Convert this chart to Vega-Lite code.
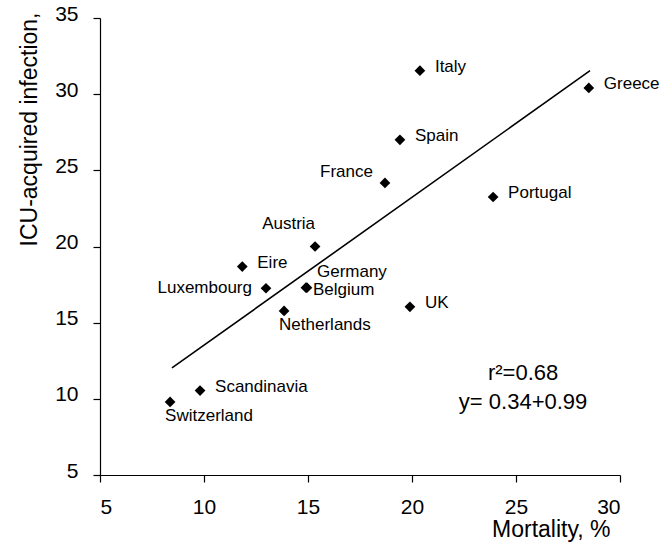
{
  "$schema": "https://vega.github.io/schema/vega-lite/v6.json",
  "width": 520,
  "height": 457,
  "autosize": {"type": "none"},
  "padding": {"left": 100, "top": 18, "right": 52, "bottom": 84},
  "background": "white",
  "config": {
    "view": {"stroke": null},
    "font": "Liberation Sans",
    "text": {"font": "Liberation Sans", "color": "black"}
  },
  "datasets": {
    "countries": [
      {"country": "Italy", "mortality": 20.38, "infection": 31.54},
      {"country": "Greece", "mortality": 28.5, "infection": 30.41},
      {"country": "Spain", "mortality": 19.42, "infection": 27.0},
      {"country": "France", "mortality": 18.7, "infection": 24.17},
      {"country": "Portugal", "mortality": 23.9, "infection": 23.25},
      {"country": "Austria", "mortality": 15.34, "infection": 20.0},
      {"country": "Eire", "mortality": 11.84, "infection": 18.68},
      {"country": "Luxembourg", "mortality": 12.98, "infection": 17.26},
      {"country": "Germany", "mortality": 14.95, "infection": 17.3},
      {"country": "Belgium", "mortality": 14.9, "infection": 17.3},
      {"country": "Netherlands", "mortality": 13.85, "infection": 15.77},
      {"country": "UK", "mortality": 19.9, "infection": 16.04},
      {"country": "Scandinavia", "mortality": 9.81, "infection": 10.54},
      {"country": "Switzerland", "mortality": 8.37, "infection": 9.8}
    ],
    "fit": [
      {"mortality": 8.46, "infection": 12.03, "mortality2": 28.56, "infection2": 31.54}
    ],
    "notes": [
      {"mortality": 25.34, "infection": 11.71, "note": "r²=0.68"},
      {"mortality": 25.34, "infection": 9.8, "note": "y= 0.34+0.99"}
    ]
  },
  "encoding": {
    "x": {
      "field": "mortality",
      "type": "quantitative",
      "scale": {"domain": [5, 30], "nice": false, "zero": false},
      "axis": {
        "values": [5, 10, 15, 20, 25, 30],
        "grid": false,
        "domainColor": "black",
        "domainWidth": 1.2,
        "tickColor": "black",
        "tickSize": 7,
        "tickWidth": 1.2,
        "labelFont": "Liberation Sans",
        "labelFontSize": 21,
        "labelColor": "black",
        "labelPadding": 14,
        "labelBaseline": "top",
        "title": "Mortality, %",
        "titleFont": "Liberation Sans",
        "titleFontSize": 23,
        "titleFontWeight": "normal",
        "titleColor": "black",
        "titleAnchor": "end",
        "titleAlign": "right",
        "titleBaseline": "alphabetic",
        "titleX": 510,
        "titleY": 61
      }
    },
    "y": {
      "field": "infection",
      "type": "quantitative",
      "scale": {"domain": [5, 35], "nice": false, "zero": false},
      "axis": {
        "values": [5, 10, 15, 20, 25, 30, 35],
        "grid": false,
        "domainColor": "black",
        "domainWidth": 1.2,
        "tickColor": "black",
        "tickSize": 7,
        "tickWidth": 1.2,
        "labelFont": "Liberation Sans",
        "labelFontSize": 21,
        "labelColor": "black",
        "labelPadding": 15,
        "labelOffset": -4,
        "title": "ICU-acquired infection,",
        "titleFont": "Liberation Sans",
        "titleFontSize": 23,
        "titleFontWeight": "normal",
        "titleColor": "black",
        "titleAngle": -90,
        "titleAlign": "right",
        "titleBaseline": "alphabetic",
        "titleX": -64,
        "titleY": -6
      }
    }
  },
  "layer": [
    {
      "data": {"name": "fit"},
      "mark": {"type": "rule", "color": "black", "strokeWidth": 1.6},
      "encoding": {
        "x2": {"field": "mortality2"},
        "y2": {"field": "infection2"}
      }
    },
    {
      "data": {"name": "countries"},
      "mark": {"type": "point", "shape": "diamond", "filled": true, "color": "black", "opacity": 1, "size": 115}
    },
    {
      "data": {"name": "countries"},
      "transform": [{"filter": {"field": "country", "oneOf": ["Italy", "Greece", "Spain", "Eire", "Portugal", "UK", "Scandinavia"]}}],
      "mark": {"type": "text", "align": "left", "baseline": "middle", "dx": 15, "dy": -4, "fontSize": 17},
      "encoding": {"text": {"field": "country"}}
    },
    {
      "data": {"name": "countries"},
      "transform": [{"filter": {"field": "country", "equal": "Austria"}}],
      "mark": {"type": "text", "align": "right", "baseline": "middle", "dx": 0, "dy": -23, "fontSize": 17},
      "encoding": {"text": {"field": "country"}}
    },
    {
      "data": {"name": "countries"},
      "transform": [{"filter": {"field": "country", "equal": "Luxembourg"}}],
      "mark": {"type": "text", "align": "right", "baseline": "middle", "dx": -14, "dy": 0, "fontSize": 17},
      "encoding": {"text": {"field": "country"}}
    },
    {
      "data": {"name": "countries"},
      "transform": [{"filter": {"field": "country", "equal": "France"}}],
      "mark": {"type": "text", "align": "right", "baseline": "middle", "dx": -12, "dy": -11, "fontSize": 17},
      "encoding": {"text": {"field": "country"}}
    },
    {
      "data": {"name": "countries"},
      "transform": [{"filter": {"field": "country", "equal": "Germany"}}],
      "mark": {"type": "text", "align": "left", "baseline": "middle", "dx": 10, "dy": -16, "fontSize": 17},
      "encoding": {"text": {"field": "country"}}
    },
    {
      "data": {"name": "countries"},
      "transform": [{"filter": {"field": "country", "equal": "Belgium"}}],
      "mark": {"type": "text", "align": "left", "baseline": "middle", "dx": 7, "dy": 2, "fontSize": 17},
      "encoding": {"text": {"field": "country"}}
    },
    {
      "data": {"name": "countries"},
      "transform": [{"filter": {"field": "country", "oneOf": ["Netherlands", "Switzerland"]}}],
      "mark": {"type": "text", "align": "left", "baseline": "middle", "dx": -5, "dy": 14, "fontSize": 17},
      "encoding": {"text": {"field": "country"}}
    },
    {
      "data": {"name": "notes"},
      "mark": {"type": "text", "align": "center", "baseline": "middle", "fontSize": 22},
      "encoding": {"text": {"field": "note"}}
    }
  ]
}
